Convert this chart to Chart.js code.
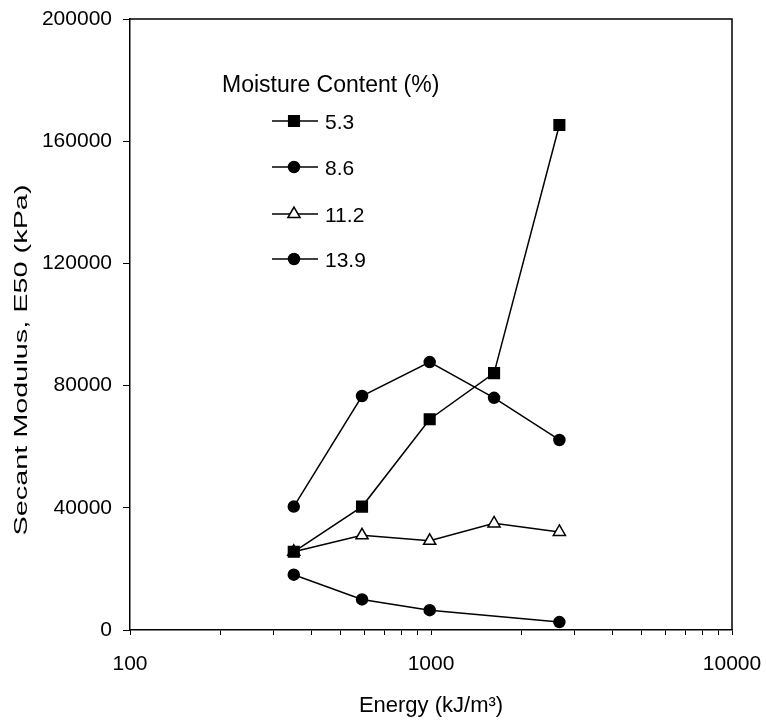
<!DOCTYPE html>
<html lang="en">
<head>
<meta charset="UTF-8">
<title>Secant Modulus vs Energy</title>
<script src="https://cdn.jsdelivr.net/npm/chart.js@4/dist/chart.umd.min.js"></script>
<style>
  body { margin: 0; background: #fff; }
  #wrap { width: 766px; height: 723px; }
</style>
</head>
<body>
<div id="wrap"><canvas id="chart" width="766" height="723"></canvas></div>
<script>
// compaction energy (kJ/m3) for each test
const energy = [350, 590, 990, 1620, 2670];

// secant modulus E50 (kPa), one array per moisture content
const mc53 = [25600, 40400, 69000, 84100, 165300];
const mc86 = [40400, 76600, 87700, 76000, 62200];
const mc112 = [25600, 31000, 29200, 34900, 32100];
const mc139 = [18100, 10000, 6500, null, 2600];

const seriesLabels = ['5.3', '8.6', '11.2', '13.9'];
const legendTitle = 'Moisture Content (%)';

// axis ticks
const xTickValues = [100, 200, 300, 400, 500, 600, 700, 800, 900,
  1000, 2000, 3000, 4000, 5000, 6000, 7000, 8000, 9000, 10000];
const xLabelValues = [100, 1000, 10000];
const yTickValues = [0, 40000, 80000, 120000, 160000, 200000];

const FONT = "'Liberation Sans', Arial, sans-serif";
Chart.defaults.font.family = FONT;
Chart.defaults.font.size = 21;
Chart.defaults.color = '#000';

function toPoints(vals) {
  return energy.map((x, i) => ({ x: x, y: vals[i] }));
}

function makeSet(label, vals, style, radius, fill) {
  return {
    label: label,
    data: toPoints(vals),
    borderColor: '#000',
    borderWidth: 1.5,
    pointStyle: style,
    pointRadius: radius,
    pointHoverRadius: radius,
    pointBackgroundColor: fill,
    pointBorderColor: '#000',
    pointBorderWidth: 1.5,
    spanGaps: true,
    tension: 0
  };
}

const datasets = [
  makeSet(seriesLabels[0], mc53, 'rect', 7.5, '#000'),
  makeSet(seriesLabels[1], mc86, 'circle', 5.5, '#000'),
  makeSet(seriesLabels[2], mc112, 'triangle', 7, '#fff'),
  makeSet(seriesLabels[3], mc139, 'circle', 5.5, '#000')
];

// frame on top and right, legend inside the plot, narrow y title
const extras = {
  id: 'extras',
  afterDraw(chart) {
    const ctx = chart.ctx;
    const a = chart.chartArea;
    ctx.save();
    ctx.strokeStyle = '#000';
    ctx.lineWidth = 1.5;
    ctx.beginPath();
    ctx.moveTo(a.left, a.top);
    ctx.lineTo(a.right, a.top);
    ctx.lineTo(a.right, a.bottom);
    ctx.stroke();

    // legend
    ctx.fillStyle = '#000';
    ctx.font = '23px ' + FONT;
    ctx.textAlign = 'left';
    ctx.textBaseline = 'alphabetic';
    ctx.fillText(legendTitle, 222, 92);
    ctx.font = '21px ' + FONT;
    const rows = [121, 167, 214, 259];
    chart.data.datasets.forEach((ds, i) => {
      const y = rows[i];
      ctx.lineWidth = 1.5;
      ctx.strokeStyle = '#000';
      ctx.beginPath();
      ctx.moveTo(272, y);
      ctx.lineTo(318, y);
      ctx.stroke();
      ctx.fillStyle = ds.pointBackgroundColor;
      Chart.helpers.drawPoint(ctx, {
        pointStyle: ds.pointStyle, radius: ds.pointRadius,
        borderWidth: ds.pointBorderWidth, rotation: 0
      }, 294, y);
      ctx.fillStyle = '#000';
      ctx.fillText(ds.label, 325, y + 7.5);
    });

    // y axis title: tall narrow lettering like the original
    const title = 'Secant Modulus, E50 (kPa)';
    ctx.font = '27px ' + FONT;
    const w = ctx.measureText(title).width;
    ctx.translate(22, 360);
    ctx.rotate(-Math.PI / 2);
    ctx.scale(351 / w, 0.66);
    ctx.textAlign = 'center';
    ctx.textBaseline = 'middle';
    ctx.fillText(title, 0, 0);
    ctx.restore();
  }
};

new Chart(document.getElementById('chart'), {
  type: 'line',
  data: { datasets: datasets },
  plugins: [extras],
  options: {
    responsive: false,
    animation: false,
    layout: { padding: { left: 0, right: 34, top: 19, bottom: 0 } },
    plugins: { legend: { display: false }, tooltip: { enabled: false } },
    scales: {
      x: {
        type: 'logarithmic',
        min: 100,
        max: 10000,
        afterBuildTicks: (scale) => {
          scale.ticks = xTickValues.map(v => ({ value: v }));
        },
        afterFit: (scale) => {
          scale.height = 93;
          scale.paddingLeft = 0;
          scale.paddingRight = 0;
        },
        ticks: {
          autoSkip: false,
          maxRotation: 0,
          padding: 17,
          callback: (v) => xLabelValues.includes(v) ? String(v) : ''
        },
        grid: { drawOnChartArea: false, tickLength: 5, color: '#000', lineWidth: 1 },
        border: { color: '#000', width: 1.5 },
        title: { display: true, text: 'Energy (kJ/m³)', font: { size: 22 }, padding: { top: 4, bottom: 4 } }
      },
      y: {
        min: 0,
        max: 200000,
        afterBuildTicks: (scale) => {
          scale.ticks = yTickValues.map(v => ({ value: v }));
        },
        afterFit: (scale) => {
          scale.width = 130;
          scale.paddingTop = 0;
          scale.paddingBottom = 0;
        },
        ticks: { padding: 11, callback: (v) => String(v) },
        grid: { drawOnChartArea: false, tickLength: 7, color: '#000', lineWidth: 1 },
        border: { color: '#000', width: 1.5 }
      }
    }
  }
});
</script>
</body>
</html>
